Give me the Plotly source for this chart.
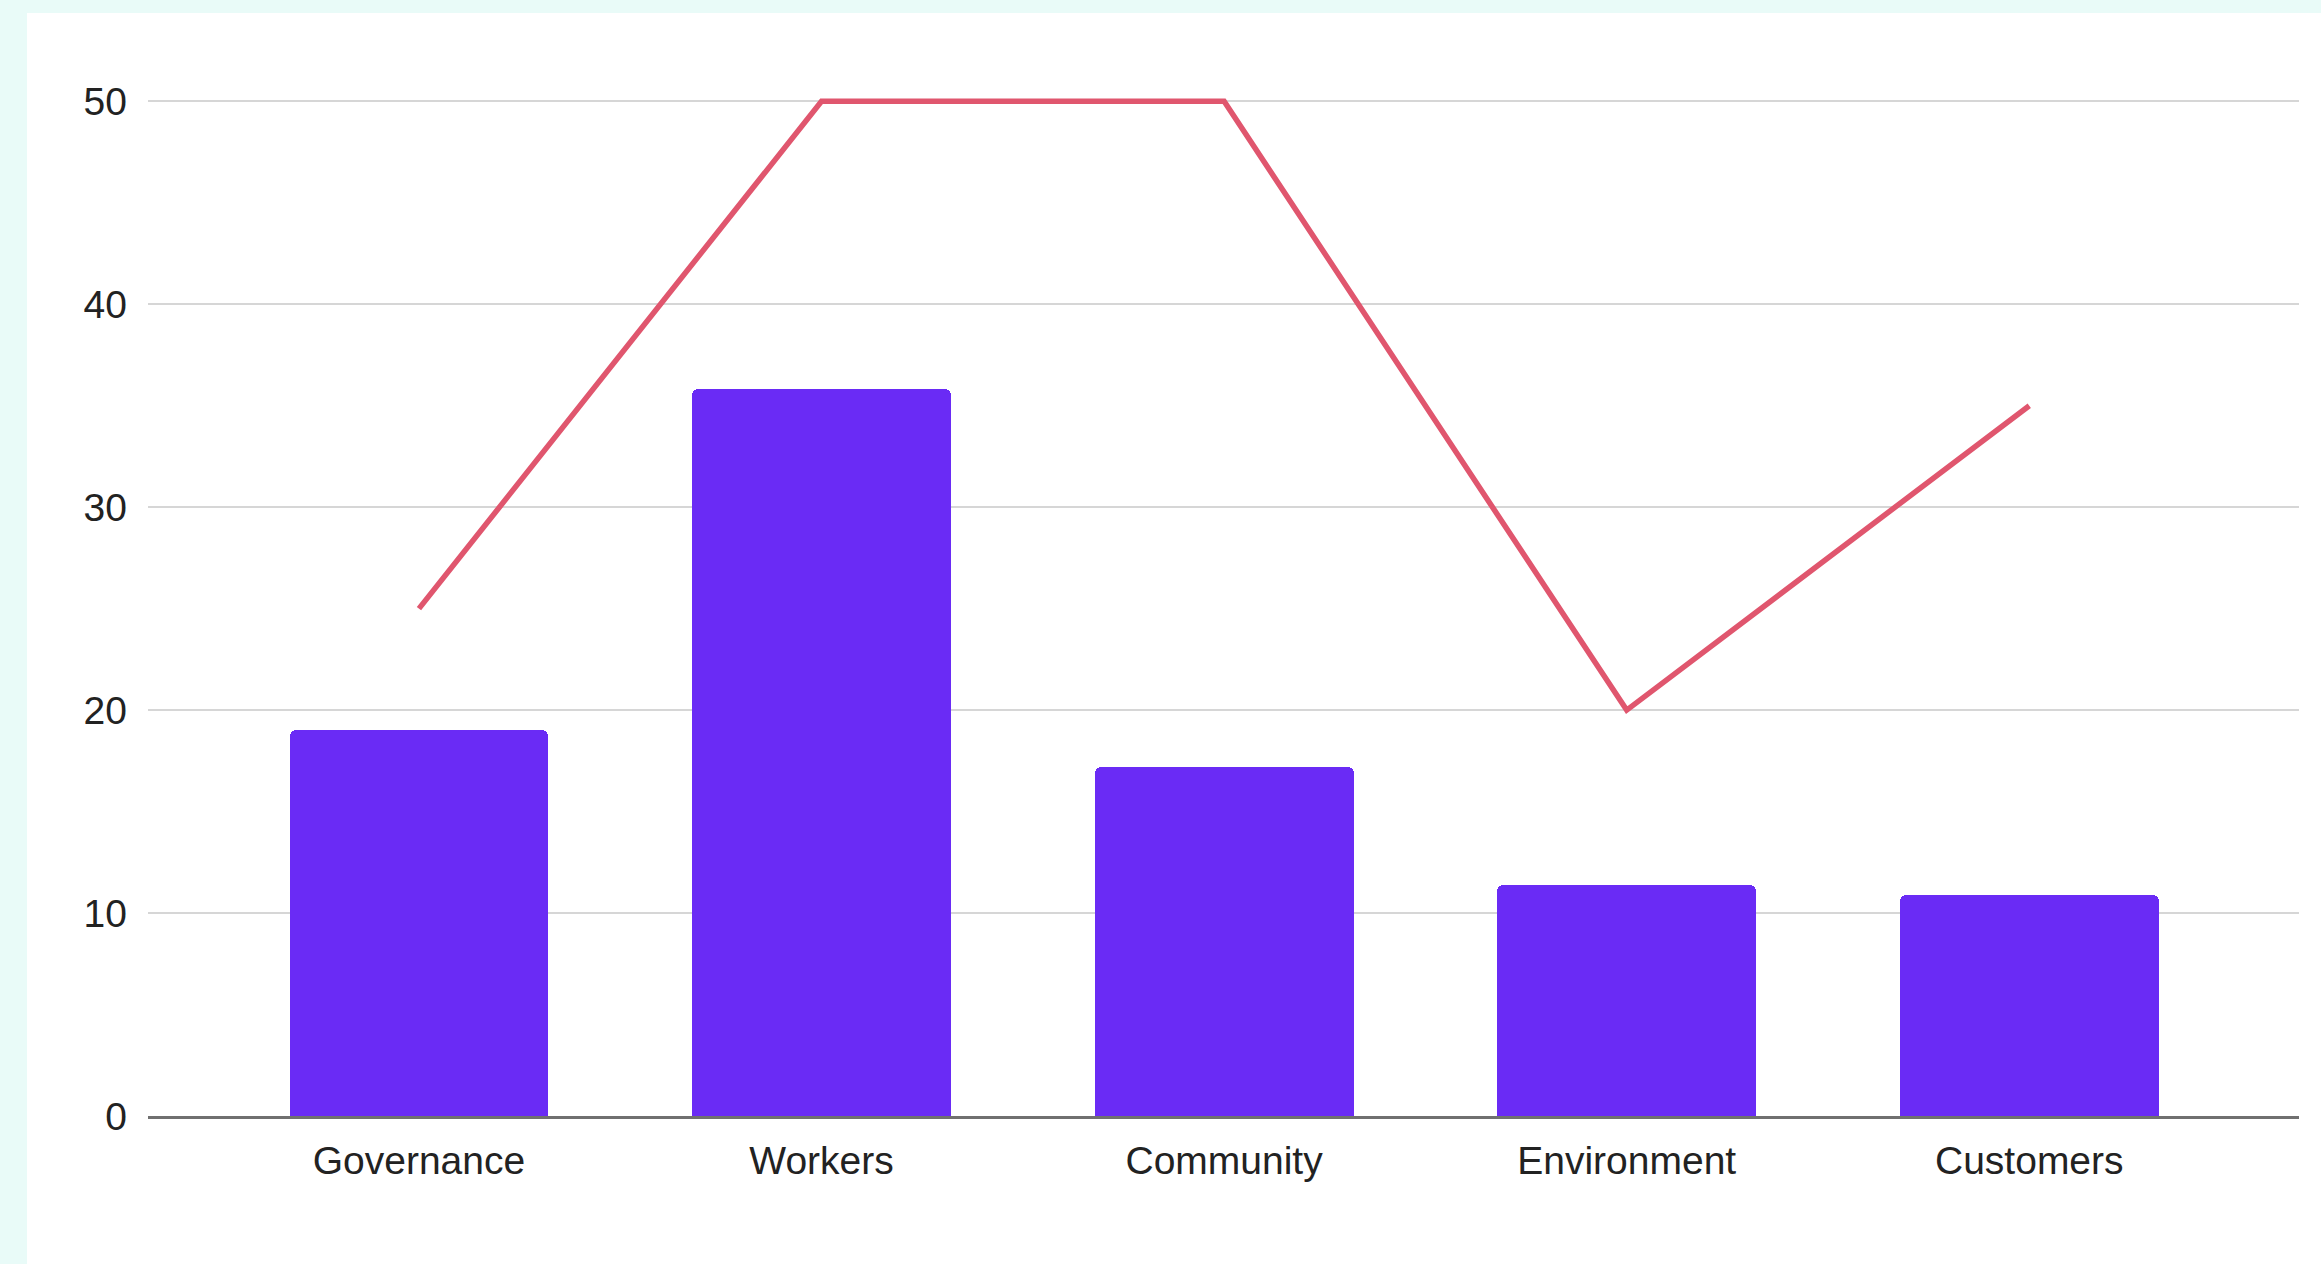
import plotly.graph_objects as go

categories = ["Governance", "Workers", "Community", "Environment", "Customers"]
bar_values = [19.0, 35.8, 17.2, 11.4, 10.9]
line_values = [25, 50, 50, 20, 35]
y_ticks = [0, 10, 20, 30, 40, 50]

W, H = 2321, 1264
L, R, T, B = 148, 22, 81, 148
plot_w = W - L - R
plot_h = H - T - B

fig = go.Figure()
fig.add_trace(go.Bar(
    x=list(range(len(categories))), y=bar_values,
    marker=dict(color="#6A2BF5", cornerradius=6, line=dict(width=0)),
    width=0.643, hoverinfo="skip"))
fig.add_trace(go.Scatter(
    x=list(range(len(categories))), y=line_values, mode="lines",
    line=dict(color="#E0566E", width=5.5), hoverinfo="skip"))

# white card over the light cyan page background
fig.add_shape(type="rect", xref="paper", yref="paper",
              x0=(27 - L) / plot_w, x1=(W - L) / plot_w + 0.02,
              y0=-B / plot_h - 0.02, y1=(H - 13 - B) / plot_h,
              fillcolor="white", line=dict(width=0), layer="below")

fig.update_layout(
    width=W, height=H,
    margin=dict(l=L, r=R, t=T, b=B, pad=0),
    paper_bgcolor="#E9FBF8", plot_bgcolor="rgba(0,0,0,0)",
    showlegend=False, bargap=0,
    font=dict(family="Liberation Sans, Arial, sans-serif", size=39, color="#222222"),
)
fig.update_xaxes(
    tickmode="array", tickvals=list(range(len(categories))), ticktext=categories,
    range=[-0.673, 4.670], showgrid=False, zeroline=False,
    showline=True, linecolor="#707070", linewidth=3,
    ticks="", ticklabelstandoff=8, fixedrange=True)
fig.update_yaxes(
    range=[0, 51], tickmode="array", tickvals=y_ticks,
    showgrid=True, gridcolor="#d6d6d6", gridwidth=2,
    zeroline=False, showline=False, ticks="", ticklabelstandoff=20, fixedrange=True)

fig.write_html(
    "out.html",
    config={"displayModeBar": False},
    post_script="document.body.style.margin='0';document.body.style.overflow='hidden';"
                "document.body.style.background='#E9FBF8';")
